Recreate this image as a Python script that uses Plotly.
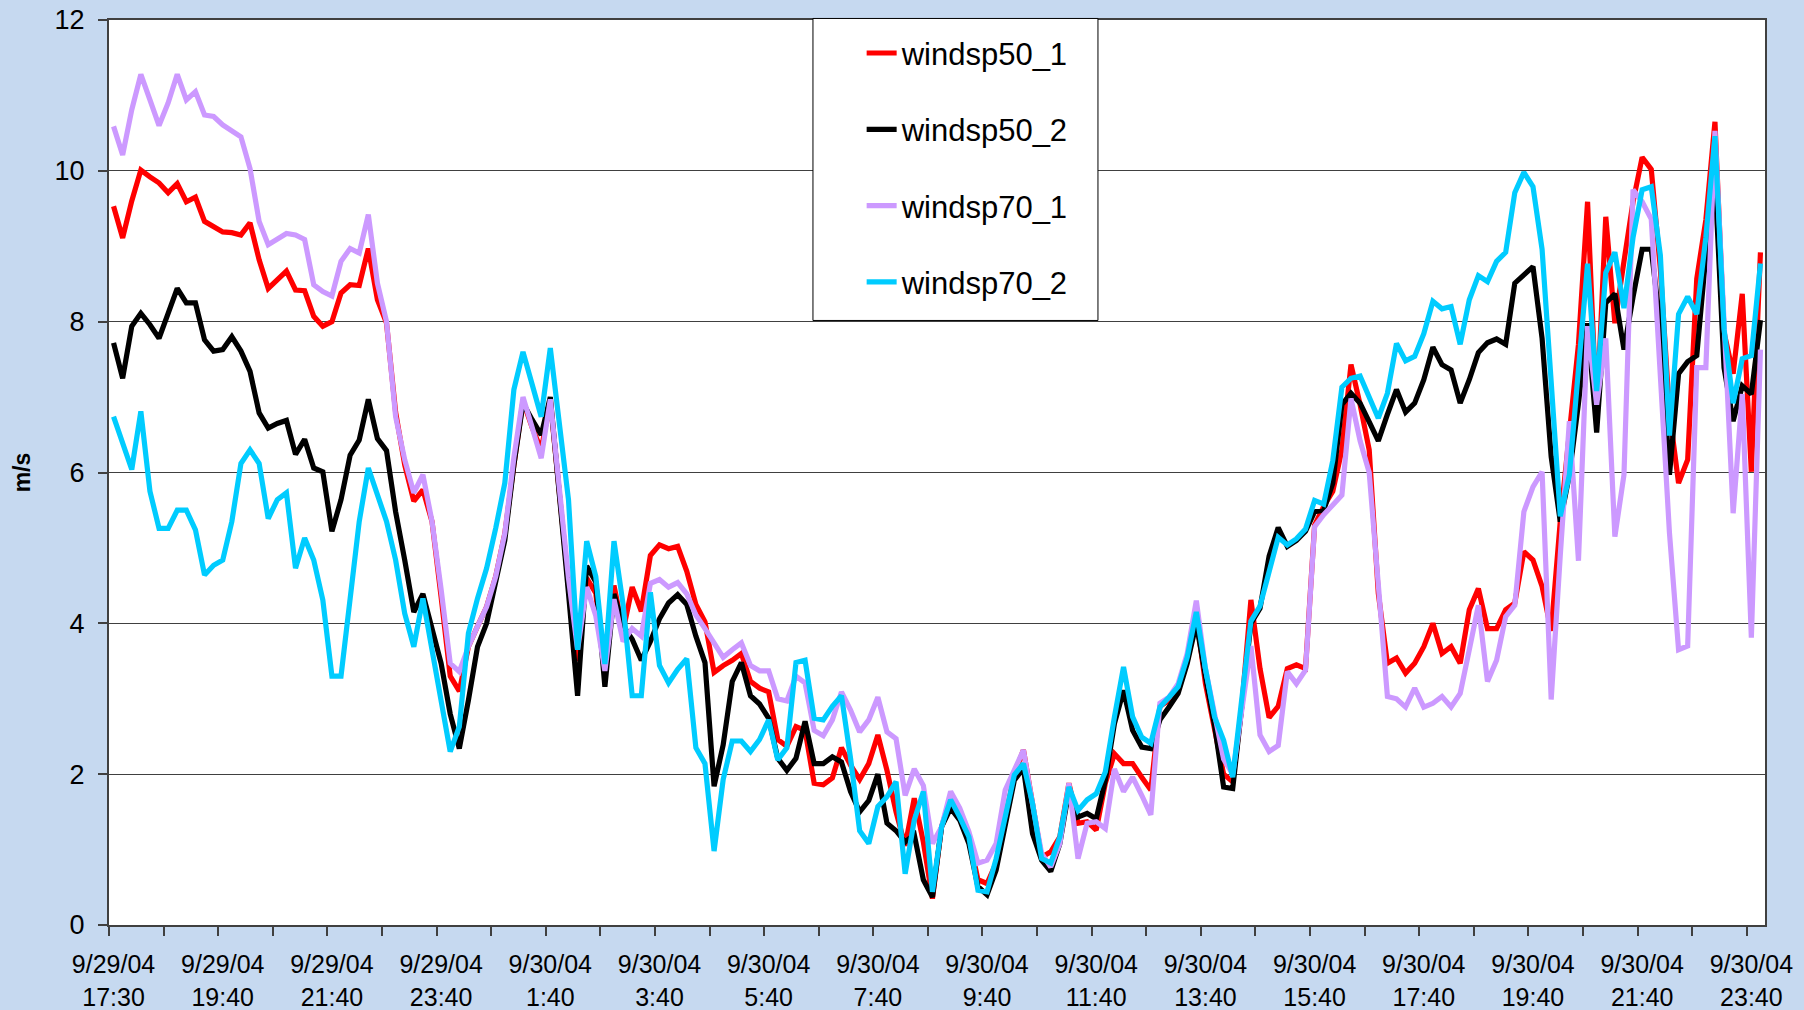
import plotly.graph_objects as go

# ---- data (10-minute samples, category index 0..181) ----
tick_labels = ["9/29/04<br>17:30", "9/29/04<br>19:40", "9/29/04<br>21:40", "9/29/04<br>23:40",
               "9/30/04<br>1:40", "9/30/04<br>3:40", "9/30/04<br>5:40", "9/30/04<br>7:40",
               "9/30/04<br>9:40", "9/30/04<br>11:40", "9/30/04<br>13:40", "9/30/04<br>15:40",
               "9/30/04<br>17:40", "9/30/04<br>19:40", "9/30/04<br>21:40", "9/30/04<br>23:40"]

windsp50_1 = [9.53, 9.11, 9.6, 10.01, 9.92, 9.84, 9.71, 9.83, 9.59, 9.65, 9.33, 9.26, 9.19, 9.18, 9.15, 9.31,
              8.82, 8.44, 8.55, 8.67, 8.42, 8.41, 8.07, 7.94, 8.0, 8.38, 8.49, 8.48, 8.97, 8.29, 7.98, 6.8,
              6.1, 5.62, 5.77, 5.35, 4.35, 3.3, 3.1, 3.69, 3.96, 4.22, 4.62, 5.19, 6.1, 6.95, 6.6, 6.3,
              6.95, 5.7, 4.5, 3.5, 4.6, 4.4, 3.3, 4.5, 3.9, 4.48, 4.16, 4.9, 5.04, 4.99, 5.02, 4.69,
              4.25, 4.02, 3.35, 3.44, 3.51, 3.6, 3.23, 3.14, 3.09, 2.46, 2.37, 2.63, 2.58, 1.88, 1.86, 1.95,
              2.35, 2.12, 1.93, 2.14, 2.52, 2.05, 1.5, 1.05, 1.68, 1.1, 0.35, 1.3, 1.7, 1.43, 1.17, 0.6,
              0.55, 0.82, 1.39, 2.0, 2.32, 1.6, 0.9, 0.97, 1.17, 1.88, 1.35, 1.37, 1.26, 1.88, 2.27, 2.14,
              2.14, 1.96, 1.79, 2.9, 2.98, 3.15, 3.5, 4.1, 3.2, 2.6, 2.0, 1.9, 2.9, 4.31, 3.4, 2.75,
              2.9, 3.4, 3.45, 3.4, 5.3, 5.55, 5.75, 6.3, 7.43, 6.9, 6.3, 4.4, 3.47, 3.54, 3.34, 3.47,
              3.69, 4.0, 3.6, 3.69, 3.47, 4.18, 4.46, 3.93, 3.93, 4.18, 4.27, 4.95, 4.84, 4.49, 3.9, 5.35,
              6.45, 7.7, 9.59, 6.76, 9.39, 7.98, 8.8, 9.59, 10.18, 10.02, 8.7, 6.8, 5.86, 6.17, 8.57, 9.35,
              10.65, 7.86, 7.31, 8.37, 6.01, 8.92]

windsp50_2 = [7.72, 7.25, 7.94, 8.11, 7.96, 7.78, 8.11, 8.44, 8.25, 8.25, 7.76, 7.61, 7.63, 7.8, 7.61, 7.34,
              6.79, 6.59, 6.65, 6.69, 6.24, 6.44, 6.06, 6.01, 5.22, 5.64, 6.23, 6.43, 6.97, 6.45, 6.29, 5.48,
              4.84, 4.15, 4.39, 3.96, 3.47, 2.8, 2.34, 2.98, 3.69, 4.0, 4.53, 5.1, 6.1, 6.92, 6.7, 6.5,
              7.0, 5.6, 4.4, 3.04, 4.76, 4.55, 3.16, 4.39, 3.97, 3.79, 3.51, 3.76, 4.06, 4.27, 4.38, 4.25,
              3.83, 3.48, 1.84, 2.39, 3.23, 3.48, 3.04, 2.93, 2.74, 2.21, 2.05, 2.21, 2.7, 2.14, 2.14, 2.23,
              2.16, 1.77, 1.5, 1.65, 2.0, 1.35, 1.25, 1.1, 1.2, 0.6, 0.37, 1.3, 1.55, 1.39, 1.08, 0.51,
              0.4, 0.73, 1.3, 1.92, 2.08, 1.21, 0.86, 0.71, 1.08, 1.79, 1.43, 1.48, 1.41, 1.92, 2.67, 3.11,
              2.58, 2.36, 2.34, 2.72, 2.89, 3.07, 3.47, 4.0, 3.3, 2.65, 1.83, 1.81, 2.9, 4.0, 4.2, 4.89,
              5.27, 5.02, 5.1, 5.22, 5.48, 5.5, 5.86, 6.9, 7.05, 6.92, 6.67, 6.42, 6.77, 7.1, 6.8, 6.92,
              7.23, 7.66, 7.43, 7.36, 6.92, 7.23, 7.59, 7.72, 7.77, 7.7, 8.51, 8.61, 8.73, 7.78, 6.21, 5.35,
              5.97, 6.92, 7.98, 6.53, 8.25, 8.37, 7.63, 8.33, 8.96, 8.96, 7.94, 5.97, 7.31, 7.47, 7.55, 8.88,
              9.9, 7.39, 6.68, 7.15, 7.04, 8.02]

windsp70_1 = [10.59, 10.21, 10.81, 11.28, 10.94, 10.6, 10.9, 11.28, 10.94, 11.05, 10.74, 10.72, 10.61, 10.53, 10.45, 10.03,
              9.33, 9.02, 9.09, 9.17, 9.15, 9.09, 8.49, 8.4, 8.34, 8.8, 8.97, 8.91, 9.42, 8.51, 8.0, 6.74,
              6.17, 5.73, 5.97, 5.35, 4.45, 3.47, 3.36, 3.69, 3.96, 4.22, 4.62, 5.19, 6.2, 7.0, 6.6, 6.19,
              6.97, 5.8, 4.6, 3.65, 4.48, 4.1, 3.37, 4.32, 3.76, 3.93, 3.83, 4.53, 4.58, 4.48, 4.54, 4.39,
              4.11, 3.93, 3.74, 3.55, 3.65, 3.74, 3.44, 3.37, 3.37, 3.0, 2.97, 3.3, 3.21, 2.58, 2.51, 2.72,
              3.09, 2.85, 2.56, 2.72, 3.02, 2.56, 2.47, 1.72, 2.07, 1.85, 1.08, 1.3, 1.77, 1.55, 1.24, 0.82,
              0.86, 1.08, 1.79, 2.07, 2.32, 1.6, 0.95, 0.77, 1.08, 1.88, 0.88, 1.35, 1.37, 1.28, 2.07, 1.77,
              1.96, 1.72, 1.46, 2.94, 3.02, 3.2, 3.6, 4.3, 3.4, 2.8, 2.2, 2.0, 2.9, 3.7, 2.52, 2.3,
              2.38, 3.36, 3.2, 3.38, 5.28, 5.44, 5.57, 5.7, 6.98, 6.42, 6.0, 4.6, 3.03, 3.0, 2.89, 3.14,
              2.89, 2.94, 3.03, 2.89, 3.07, 3.65, 4.24, 3.23, 3.51, 4.09, 4.24, 5.48, 5.81, 6.01, 2.99, 4.9,
              6.68, 4.83, 7.94, 6.9, 7.78, 5.15, 5.97, 9.75, 9.59, 9.36, 7.2, 5.2, 3.65, 3.7, 7.39, 7.39,
              10.53, 8.0, 5.46, 7.04, 3.81, 7.63]

windsp70_2 = [6.74, 6.37, 6.04, 6.81, 5.75, 5.26, 5.26, 5.5, 5.5, 5.24, 4.64, 4.77, 4.84, 5.35, 6.12, 6.3,
              6.12, 5.39, 5.64, 5.73, 4.73, 5.13, 4.84, 4.31, 3.3, 3.3, 4.27, 5.35, 6.06, 5.68, 5.35, 4.84,
              4.13, 3.69, 4.33, 3.65, 2.98, 2.3, 2.63, 3.87, 4.33, 4.73, 5.26, 5.86, 7.1, 7.6, 7.17, 6.74,
              7.65, 6.7, 5.64, 3.65, 5.09, 4.62, 3.46, 5.09, 4.25, 3.04, 3.04, 4.41, 3.44, 3.21, 3.39, 3.53,
              2.35, 2.14, 0.98, 1.93, 2.44, 2.44, 2.3, 2.46, 2.72, 2.19, 2.35, 3.48, 3.51, 2.74, 2.72, 2.9,
              3.04, 2.21, 1.25, 1.08, 1.57, 1.7, 1.9, 0.68, 1.39, 1.77, 0.44, 1.3, 1.66, 1.43, 1.17, 0.46,
              0.44, 0.88, 1.43, 1.99, 2.14, 1.61, 0.88, 0.82, 1.17, 1.83, 1.52, 1.66, 1.74, 2.03, 2.76, 3.42,
              2.76, 2.49, 2.41, 2.89, 3.02, 3.16, 3.55, 4.15, 3.4, 2.76, 2.45, 1.96, 3.0, 4.03, 4.23, 4.71,
              5.14, 5.04, 5.12, 5.25, 5.63, 5.58, 6.16, 7.13, 7.25, 7.28, 7.0, 6.72, 7.05, 7.71, 7.48, 7.54,
              7.84, 8.27, 8.17, 8.2, 7.7, 8.29, 8.61, 8.53, 8.8, 8.92, 9.71, 9.98, 9.79, 8.96, 7.2, 5.42,
              5.97, 7.4, 8.77, 7.08, 8.65, 8.92, 8.18, 9.12, 9.75, 9.79, 8.88, 6.49, 8.1, 8.33, 8.1, 9.12,
              10.46, 7.9, 6.92, 7.51, 7.55, 8.77]

series_names = ["windsp50_1", "windsp50_2", "windsp70_1", "windsp70_2"]
series_values = [windsp50_1, windsp50_2, windsp70_1, windsp70_2]
series_colors = ["#FF0000", "#000000", "#CC99FF", "#00CCFF"]

n = len(windsp50_1)
x_idx = list(range(n))
label_pos = list(range(0, n, 12))

FONT = "Arial, Liberation Sans, sans-serif"
PAPER = "#C6D9F0"

fig = go.Figure()
for name, vals, col in zip(series_names, series_values, series_colors):
    fig.add_trace(go.Scatter(x=x_idx, y=vals, mode="lines", name=name, legendgroup=name,
                             line=dict(color=col, width=5.2)))

fig.update_layout(
    width=1804, height=1010,
    paper_bgcolor=PAPER,
    plot_bgcolor="#FFFFFF",
    margin=dict(l=109, r=39, t=20, b=85, autoexpand=False),
    font=dict(family=FONT, color="#000000"),
    showlegend=True,
    legend=dict(x=0.4545, y=0.993, xanchor="left", yanchor="top",
                bgcolor="rgba(0,0,0,0)", borderwidth=0,
                font=dict(size=31, family=FONT), tracegroupgap=33,
                itemwidth=30),
)

fig.add_shape(type="rect", xref="paper", yref="paper",
              x0=0.4251, x1=0.5972, y0=0.668, y1=1.0017,
              line=dict(color="#000000", width=1), fillcolor="#FFFFFF", layer="above")

fig.update_xaxes(
    range=[-0.5, n - 0.5],
    tickmode="array", tickvals=label_pos, ticktext=tick_labels,
    ticks="", showgrid=False, zeroline=False,
    tickfont=dict(size=25, family=FONT),
    ticklabelstandoff=16,
    showline=True, linecolor="#404040", linewidth=2, mirror=True,
    minor=dict(tickmode="linear", tick0=-0.5, dtick=6, ticks="outside", ticklen=9,
               tickcolor="#404040", tickwidth=1.5, showgrid=False),
)
fig.update_yaxes(
    range=[0, 12], dtick=2, tick0=0,
    ticks="outside", ticklen=9, tickcolor="#404040", tickwidth=1.5,
    showgrid=True, gridcolor="#404040", gridwidth=1.2, zeroline=False,
    tickfont=dict(size=27, family=FONT),
    showline=True, linecolor="#404040", linewidth=2, mirror=True,
    title=dict(text="<b>m/s</b>", font=dict(size=23, family=FONT), standoff=18),
    ticklabelstandoff=8,
)

fig.write_html(
    "out.html",
    config={"displayModeBar": False},
    post_script="document.body.style.margin='0';document.body.style.padding='0';"
                "document.body.style.background='" + PAPER + "';",
)
